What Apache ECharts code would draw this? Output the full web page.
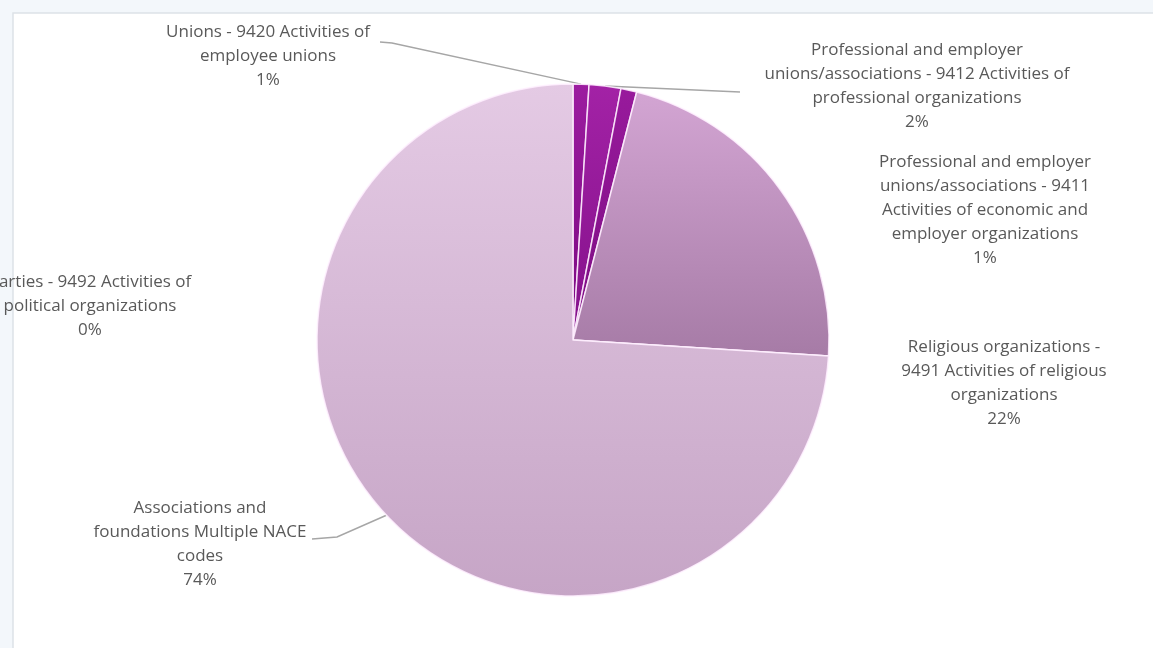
<!DOCTYPE html>
<html>
<head>
<meta charset="utf-8">
<script src="https://cdn.jsdelivr.net/npm/echarts@6/dist/echarts.min.js"></script>
<style>
  html, body { margin: 0; padding: 0; background: #f3f7fb; }
  #chart { width: 1153px; height: 648px; }
</style>
</head>
<body>
<div id="chart"></div>
<script>
// Organisation types (with their NACE codes) and their share in percent
const categories = [
  'Unions - 9420 Activities of\nemployee unions',
  'Professional and employer\nunions/associations - 9412 Activities of\nprofessional organizations',
  'Professional and employer\nunions/associations - 9411\nActivities of economic and\nemployer organizations',
  'Religious organizations -\n9491 Activities of religious\norganizations',
  'Parties - 9492 Activities of\npolitical organizations',
  'Associations and\nfoundations Multiple NACE\ncodes'
];
const shares = [1, 2, 1, 22, 0, 74];

// Slice fills: top and bottom colour of a vertical gradient
const sliceColors = [
  ['#9c1ca0', '#7a0880'],
  ['#a322a6', '#83108a'],
  ['#981a9c', '#7c0c82'],
  ['#d3a5d3', '#a67ba6'],
  ['#b58ab5', '#9a6f9a'],
  ['#e4cae4', '#c6a5c6']
];

// Where each label sits (centre x, top y) and the bend points of its leader line
const labelSpots = [
  { x: 268, y: 20, tail: [[392, 43], [380, 42]] },
  { x: 917, y: 38, tail: [[740, 92]] },
  { x: 985, y: 150, tail: null },
  { x: 1004, y: 335, tail: null },
  { x: 90, y: 270, tail: null },
  { x: 200, y: 496, tail: [[337, 537], [312, 539]] }
];

const chart = echarts.init(document.getElementById('chart'), null, { renderer: 'canvas' });

const data = categories.map((name, i) => ({
  name: name,
  value: shares[i],
  itemStyle: {
    color: new echarts.graphic.LinearGradient(0, 0, 0, 1, [
      { offset: 0, color: sliceColors[i][0] },
      { offset: 1, color: sliceColors[i][1] }
    ])
  },
  labelLine: { show: !!labelSpots[i].tail }
}));

chart.setOption({
  backgroundColor: '#f3f7fb',
  animation: false,
  graphic: [{
    type: 'rect',
    silent: true,
    z: -10,
    shape: { x: 13, y: 13, width: 1200, height: 700 },
    style: { fill: '#ffffff', stroke: '#dde2e7', lineWidth: 1.5 }
  }],
  series: [{
    type: 'pie',
    center: [573, 340],
    radius: 256,
    startAngle: 90,
    clockwise: true,
    avoidLabelOverlap: false,
    data: data,
    itemStyle: {
      borderColor: 'rgba(255,240,255,0.85)',
      borderWidth: 1.5
    },
    label: {
      show: true,
      position: 'outside',
      formatter: p => p.name + '\n' + p.value + '%',
      color: '#595959',
      fontFamily: 'Open Sans',
      fontSize: 17,
      lineHeight: 24,
      align: 'center'
    },
    labelLine: {
      show: true,
      lineStyle: { color: '#a6a6a6', width: 1.5 }
    },
    labelLayout: function (params) {
      const spot = labelSpots[params.dataIndex];
      const out = { x: spot.x, y: spot.y, align: 'center', verticalAlign: 'top' };
      if (spot.tail && params.labelLinePoints) {
        out.labelLinePoints = [params.labelLinePoints[0]].concat(spot.tail);
      }
      return out;
    },
    emphasis: { disabled: true }
  }]
});
</script>
</body>
</html>
